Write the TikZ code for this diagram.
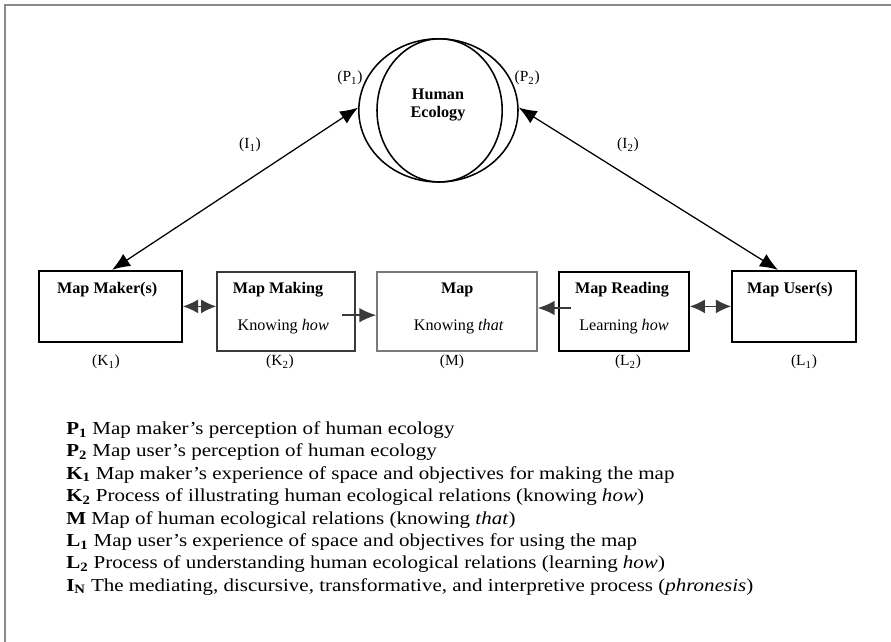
\documentclass[tikz,border=0pt]{standalone}
\usepackage{fontspec}
\setmainfont{Liberation Serif}
\newfontfamily\legendfont[Ligatures=TeX,FakeStretch=1.15]{Liberation Serif}
\usetikzlibrary{arrows.meta,shapes.geometric,calc}
\definecolor{frame}{HTML}{8A8A8A}
\definecolor{ink}{HTML}{000000}
\definecolor{ink2}{HTML}{3A3A3A}
\definecolor{muted}{HTML}{7A7A7A}
\tikzset{
  font=\fontsize{11.5}{13}\selectfont,
  mbox/.style={draw=ink, line width=1.3pt, minimum height=1.78cm, inner sep=0pt},
  pbox/.style={draw=ink2, line width=1.1pt, minimum height=1.98cm, inner sep=0pt},
  ttl/.style={font=\fontsize{11.5}{13}\selectfont\bfseries},
  tag/.style={font=\fontsize{11}{13}\selectfont},
  eco/.style={ellipse, draw=ink, line width=1.1pt, minimum height=3.58cm, inner sep=0pt},
  link/.style={{Latex[length=4.5mm,width=3.6mm]}-{Latex[length=4.5mm,width=3.6mm]}, draw=ink, line width=0.9pt},
  flow/.style={-{Latex[length=4.2mm,width=3.6mm]}, draw=ink2, line width=1pt},
  twoway/.style={{Latex[length=3.8mm,width=3.5mm]}-{Latex[length=3.8mm,width=3.5mm]}, draw=ink2, line width=1pt},
}
\begin{document}
\begin{tikzpicture}
\useasboundingbox (0,0) rectangle (22.275,16.05);
\draw[frame, line width=1.4pt] (0.125,0) -- (0.125,15.925) -- (22.275,15.925);
% human ecology
\node[eco, minimum width=3.98cm] (outer) at (10.96,13.29) {};
\node[eco, minimum width=3.13cm] (inner) at (10.99,13.29) {};
\node[ttl, align=center] (ecotxt) at (10.95,13.43) {Human\\Ecology};
\node[tag] (p1) at (8.75,14.1) {(P\textsubscript{1})};
\node[tag] (p2) at (13.18,14.1) {(P\textsubscript{2})};
% boxes
\node[mbox, minimum width=3.58cm] (maker) at (2.76,8.39) {};
\node[pbox, minimum width=3.45cm] (making) at (7.15,8.26) {};
\node[pbox, draw=muted, minimum width=4.0cm] (map) at (11.425,8.26) {};
\node[pbox, draw=ink, minimum width=3.25cm] (reading) at (15.6,8.26) {};
\node[mbox, minimum width=3.1cm] (user) at (19.85,8.39) {};
\node[ttl] (makert) at (2.68,8.8) {Map Maker(s)};
\node[ttl] (makingt) at (6.95,8.8) {Map Making};
\node (makings) at (7.08,7.88) {Knowing \textit{how}};
\node[ttl] (mapt) at (11.43,8.8) {Map};
\node (maps) at (11.47,7.88) {Knowing \textit{that}};
\node[ttl] (readingt) at (15.55,8.8) {Map Reading};
\node (readings) at (15.6,7.88) {Learning \textit{how}};
\node[ttl] (usert) at (19.75,8.8) {Map User(s)};
\node[tag] (k1) at (2.65,7.0) {(K\textsubscript{1})};
\node[tag] (k2) at (7.0,7.0) {(K\textsubscript{2})};
\node[tag] (m) at (11.3,7.0) {(M)};
\node[tag] (l2) at (15.7,7.0) {(L\textsubscript{2})};
\node[tag] (l1) at (20.1,7.0) {(L\textsubscript{1})};
% connectors
\draw[link] ([xshift=0.04cm]maker.north) -- (outer.178);
\draw[link] (outer.2) -- ([xshift=-0.4cm]user.north);
\node[tag] (i1) at (6.25,12.42) {(I\textsubscript{1})};
\node[tag] (i2) at (15.7,12.42) {(I\textsubscript{2})};
\draw[twoway] (maker.east) -- (maker.east -| making.west);
\draw[flow] ([xshift=-0.35cm,yshift=-0.09cm]making.east) -- ([yshift=-0.09cm]map.west);
\draw[flow] ([xshift=0.33cm,yshift=0.09cm]reading.west) -- ([yshift=0.09cm]map.east);
\draw[twoway] (user.west -| reading.east) -- (user.west);
% legend
\node[anchor=west, align=left, inner sep=0pt, font=\legendfont\fontsize{13}{15.9}\selectfont] (legend) at (1.65,3.34) {
\textbf{P\textsubscript{1}} Map maker's perception of human ecology\\
\textbf{P\textsubscript{2}} Map user's perception of human ecology\\
\textbf{K\textsubscript{1}} Map maker's experience of space and objectives for making the map\\
\textbf{K\textsubscript{2}} Process of illustrating human ecological relations (knowing \textit{how})\\
\textbf{M} Map of human ecological relations (knowing \textit{that})\\
\textbf{L\textsubscript{1}} Map user's experience of space and objectives for using the map\\
\textbf{L\textsubscript{2}} Process of understanding human ecological relations (learning \textit{how})\\
\textbf{I\textsubscript{N}} The mediating, discursive, transformative, and interpretive process (\textit{phronesis})};
\end{tikzpicture}
\end{document}
